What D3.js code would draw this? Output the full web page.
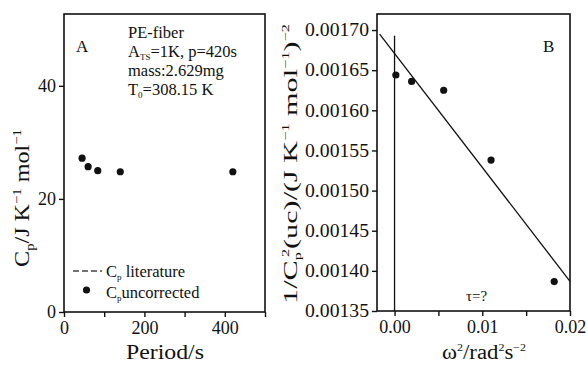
<!DOCTYPE html>
<html><head><meta charset="utf-8">
<script src="https://cdn.jsdelivr.net/npm/d3@7"></script>
<style>body{margin:0;background:#fff}svg{display:block}text{font-family:"Liberation Serif","Times New Roman",serif;fill:#111}</style>
</head><body>
<script>
// Panel A data
const periods = [45, 60, 84, 140, 420];
const cpUncorrected = [27.2, 25.7, 25.0, 24.8, 24.8];
const aXTicks = [0, 200, 400];
const aXMinor = [100, 300, 500];
const aYTicks = [0, 20, 40];
// Panel B data
const omega2 = [0.00015, 0.00195, 0.0056, 0.011, 0.0182];
const invCp2 = [0.001644, 0.001636, 0.001625, 0.001538, 0.0013866];
const fitX = [-0.0017, 0.02];
const fitY = [0.001695, 0.001387];
const zeroLineY = [0.00135, 0.001693];
const bXTicks = [0.00, 0.01, 0.02];
const bXMinor = [0.005, 0.015];
const bYTicks = [0.00135, 0.00140, 0.00145, 0.00150, 0.00155, 0.00160, 0.00165, 0.00170];

const W = 587, H = 365;
const svg = d3.select("body").append("svg").attr("width", W).attr("height", H);

function axes(g, x, y, xt, xm, yt, xfmt, yfmt) {
  const [x0, x1] = x.range(), [y0, y1] = y.range();
  g.append("rect").attr("x", x0).attr("y", y1).attr("width", x1 - x0).attr("height", y0 - y1)
    .attr("fill", "none").attr("stroke", "#111").attr("stroke-width", 1.6);
  const xa = g.append("g").attr("transform", `translate(0,${y0})`)
    .call(d3.axisBottom(x).tickValues(xt.concat(xm).sort((a,b)=>a-b)).tickSize(5).tickPadding(3)
      .tickFormat(d => xt.includes(d) ? xfmt(d) : ""));
  const ya = g.append("g").attr("transform", `translate(${x0},0)`)
    .call(d3.axisLeft(y).tickValues(yt).tickSize(5).tickPadding(3).tickFormat(yfmt));
  [xa, ya].forEach(a => {
    a.select(".domain").remove();
    a.selectAll("line").attr("stroke", "#111").attr("stroke-width", 1.4);
    a.selectAll("text").attr("font-size", 18).attr("font-family", "Liberation Serif").attr("fill", "#111");
  });
  xa.selectAll("text").attr("dy", "0.78em");
  return {xa, ya};
}

// fit a text element to a target length along its own direction
function fit(sel, cx, cy, rot, target, sy = 1) {
  const w = sel.node().getBBox().width;
  const s = target / w;
  sel.attr("transform", `translate(${cx},${cy}) rotate(${rot}) scale(${s},${sy})`);
}

// ---------- Panel A ----------
const xA = d3.scaleLinear().domain([0, 500]).range([64, 265]);
const yA = d3.scaleLinear().domain([0, 52.7]).range([312, 14]);
const gA = svg.append("g");
axes(gA, xA, yA, aXTicks, aXMinor, aYTicks, d3.format("d"), d3.format("d"));
gA.selectAll("circle.pt").data(periods).join("circle")
  .attr("cx", (d) => xA(d)).attr("cy", (d, i) => yA(cpUncorrected[i])).attr("r", 3.6).attr("fill", "#111");
gA.append("text").attr("x", 76).attr("y", 52).attr("font-size", 17).text("A");
const info = gA.append("text").attr("font-size", 16.5);
info.append("tspan").attr("x", 128).attr("y", 38).text("PE-fiber");
const l2 = info.append("tspan").attr("x", 128).attr("y", 57);
l2.append("tspan").text("A");
l2.append("tspan").attr("font-size", 9).attr("dy", 3).text("TS");
l2.append("tspan").attr("dy", -3).text("=1K, p=420s");
info.append("tspan").attr("x", 128).attr("y", 76).text("mass:2.629mg");
const l4 = info.append("tspan").attr("x", 128).attr("y", 95);
l4.append("tspan").text("T");
l4.append("tspan").attr("font-size", 9).attr("dy", 3).text("0");
l4.append("tspan").attr("dy", -3).text("=308.15 K");
// legend
gA.append("line").attr("x1", 73).attr("x2", 102).attr("y1", 271).attr("y2", 271)
  .attr("stroke", "#444").attr("stroke-width", 1.3).attr("stroke-dasharray", "6,3");
const lg1 = gA.append("text").attr("x", 106).attr("y", 277).attr("font-size", 16.5);
lg1.append("tspan").text("C");
lg1.append("tspan").attr("font-size", 9).attr("dy", 3).text("p");
lg1.append("tspan").attr("dy", -3).text(" literature");
gA.append("circle").attr("cx", 86.5).attr("cy", 290).attr("r", 3.6).attr("fill", "#111");
const lg2 = gA.append("text").attr("x", 106).attr("y", 298).attr("font-size", 16.5);
lg2.append("tspan").text("C");
lg2.append("tspan").attr("font-size", 9).attr("dy", 3).text("p");
lg2.append("tspan").attr("dy", -3).text("uncorrected");
// axis titles A
const xtA = gA.append("text").attr("text-anchor", "middle").attr("font-size", 23).attr("y", 0).text("Period/s");
fit(xtA, 165, 359, 0, 78, 0.95);
const ytA = gA.append("text").attr("text-anchor", "middle").attr("font-size", 23).attr("y", 7);
ytA.append("tspan").text("C");
ytA.append("tspan").attr("font-size", 14).attr("dy", 5).text("p");
ytA.append("tspan").attr("dy", -5).text("/J K");
ytA.append("tspan").attr("font-size", 14).attr("dy", -9).text("−1");
ytA.append("tspan").attr("dy", 9).text("  mol");
ytA.append("tspan").attr("font-size", 14).attr("dy", -9).text("−1");
fit(ytA, 23, 198, -90, 138, 0.9);

// ---------- Panel B ----------
const xB = d3.scaleLinear().domain([-0.002, 0.02]).range([377, 570]);
const yB = d3.scaleLinear().domain([0.00135, 0.00172]).range([311, 14]);
const gB = svg.append("g");
const axB = axes(gB, xB, yB, bXTicks, bXMinor, bYTicks, d3.format(".2f"), d3.format(".5f"));
// widen y tick labels to match the reference's proportions
axB.ya.selectAll("text").each(function() {
  const t = d3.select(this);
  const w = this.getBBox().width;
  const s = 64 / w;
  t.attr("transform", `translate(-8,0) scale(${s},1) translate(8,0)`);
});
gB.append("line").attr("x1", xB(0)).attr("x2", xB(0)).attr("y1", yB(zeroLineY[0])).attr("y2", yB(zeroLineY[1]))
  .attr("stroke", "#111").attr("stroke-width", 1.3);
gB.append("line").attr("x1", xB(fitX[0])).attr("x2", xB(fitX[1])).attr("y1", yB(fitY[0])).attr("y2", yB(fitY[1]))
  .attr("stroke", "#111").attr("stroke-width", 1.3);
gB.selectAll("circle.pt").data(omega2).join("circle")
  .attr("cx", d => xB(d)).attr("cy", (d, i) => yB(invCp2[i])).attr("r", 3.6).attr("fill", "#111");
gB.append("text").attr("x", 543).attr("y", 52).attr("font-size", 17).text("B");
gB.append("text").attr("x", 466).attr("y", 301).attr("font-size", 15).text("τ=?");
const xtB = gB.append("text").attr("text-anchor", "middle").attr("font-size", 21).attr("y", 0);
xtB.append("tspan").text("ω");
xtB.append("tspan").attr("font-size", 11).attr("dy", -8).text("2");
xtB.append("tspan").attr("dy", 8).text("/rad");
xtB.append("tspan").attr("font-size", 11).attr("dy", -8).text("2");
xtB.append("tspan").attr("dy", 8).text("s");
xtB.append("tspan").attr("font-size", 11).attr("dy", -8).text("−2");
fit(xtB, 484, 359, 0, 84, 0.95);
const ytB = gB.append("text").attr("text-anchor", "middle").attr("font-size", 24).attr("y", 7);
ytB.append("tspan").text("1/C");
ytB.append("tspan").attr("font-size", 13).attr("dy", 5).text("p");
ytB.append("tspan").attr("font-size", 13).attr("dy", -15).attr("dx", -4).text("2");
ytB.append("tspan").attr("dy", 10).text("(uc)/(J K");
ytB.append("tspan").attr("font-size", 13).attr("dy", -9).text("−1");
ytB.append("tspan").attr("dy", 9).text(" mol");
ytB.append("tspan").attr("font-size", 13).attr("dy", -9).text("−1");
ytB.append("tspan").attr("dy", 9).text(")");
ytB.append("tspan").attr("font-size", 13).attr("dy", -9).text("−2");
fit(ytB, 291, 164, -90, 280, 0.82);
</script>
</body></html>
